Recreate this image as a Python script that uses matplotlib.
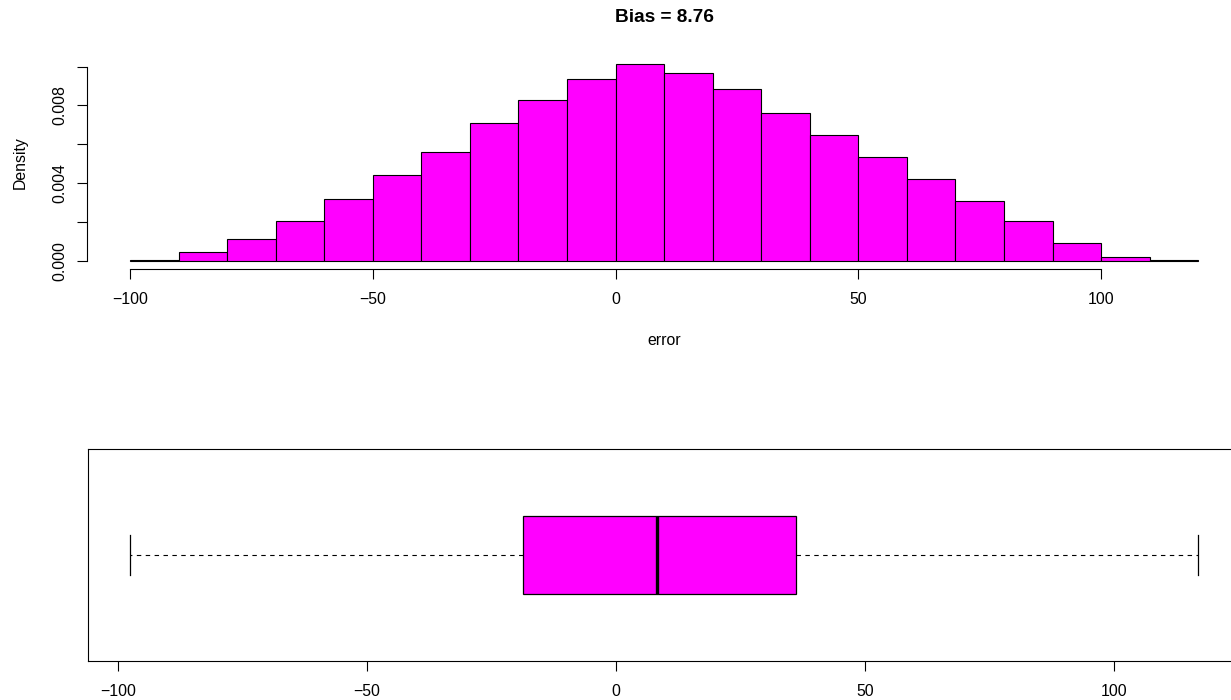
import matplotlib
matplotlib.use('Agg')
import matplotlib.pyplot as plt
import numpy as np

plt.rcParams['font.family'] = ['Liberation Sans', 'DejaVu Sans']
plt.rcParams['axes.unicode_minus'] = True

# histogram of the errors (density per 10-wide bin)
bin_edges = np.arange(-100, 121, 10)
density = [0.00005, 0.000465, 0.00114, 0.00207, 0.00317, 0.00441,
           0.00560, 0.00712, 0.00827, 0.00934, 0.01015, 0.00966,
           0.00887, 0.00762, 0.00648, 0.00536, 0.00421, 0.00310,
           0.00204, 0.00093, 0.000176, 0.00002]

# boxplot summary: lower whisker, Q1, median, Q3, upper whisker
box_stats = [-97.5, -18.7, 8.3, 36.2, 116.9]
bias = 8.76

x_ticks = [-100, -50, 0, 50, 100]
y_ticks = [0, 0.002, 0.004, 0.006, 0.008, 0.010]
y_labels = ['0.000', '', '0.004', '', '0.008', '']

W, H = 1231, 700
fig = plt.figure(figsize=(W / 100, H / 100), dpi=100)


def px_axes(left, top, right, bottom):
    return fig.add_axes([left / W, 1 - bottom / H, (right - left) / W, (bottom - top) / H])


def tick_text(v):
    return str(v).replace('-', '\u2212')


magenta = '#FF00FF'
fs = 11.4

# --- top: histogram
ax1 = px_axes(87.3, 55.8, 1241, 268.6)
ax1.bar(bin_edges[:-1], density, width=10, align='edge', color=magenta,
        edgecolor='black', linewidth=0.8)
ax1.set_xlim(-108.8, 128.8)
ax1.set_ylim(-0.000406, 0.01056)
for s in ['top', 'right']:
    ax1.spines[s].set_visible(False)
ax1.spines['left'].set_bounds(0, 0.010)
ax1.spines['bottom'].set_bounds(-100, 100)
for s in ['left', 'bottom']:
    ax1.spines[s].set_linewidth(0.8)
ax1.set_xticks(x_ticks)
ax1.set_xticklabels([tick_text(v) for v in x_ticks])
ax1.set_yticks(y_ticks)
ax1.set_yticklabels(y_labels, rotation=90, va='center')
ax1.tick_params(axis='both', direction='out', length=7.2, width=0.8,
                labelsize=fs)
ax1.tick_params(axis='x', pad=9.5)
ax1.tick_params(axis='y', pad=7)
ax1.set_xlabel('error', fontsize=fs, labelpad=19)
ax1.set_ylabel('Density', fontsize=fs, labelpad=18)
fig.text(664 / W, 1 - 17 / H, 'Bias = %.2f' % bias, ha='center', va='center',
         fontsize=13.7, fontweight='bold')

# --- bottom: horizontal boxplot
ax2 = px_axes(87.7, 449, 1241, 661)
stats = [{'whislo': box_stats[0], 'q1': box_stats[1], 'med': box_stats[2],
          'q3': box_stats[3], 'whishi': box_stats[4], 'fliers': []}]
ax2.bxp(stats, positions=[1], widths=0.4, orientation='horizontal',
        patch_artist=True, showfliers=False,
        boxprops=dict(facecolor=magenta, edgecolor='black', linewidth=0.9),
        medianprops=dict(color='black', linewidth=2.4),
        whiskerprops=dict(color='black', linewidth=0.8, linestyle=(0, (4, 4))),
        capprops=dict(color='black', linewidth=0.9), capwidths=0.2)
ax2.set_xlim(-106.04, 125.43)
ax2.set_ylim(0.46, 1.54)
ax2.set_yticks([])
ax2.set_xticks(x_ticks)
ax2.set_xticklabels([tick_text(v) for v in x_ticks])
ax2.tick_params(axis='x', direction='out', length=7.2, width=0.8,
                labelsize=fs, pad=9)
for s in ax2.spines.values():
    s.set_linewidth(0.8)

fig.savefig('out.png', dpi=100)
